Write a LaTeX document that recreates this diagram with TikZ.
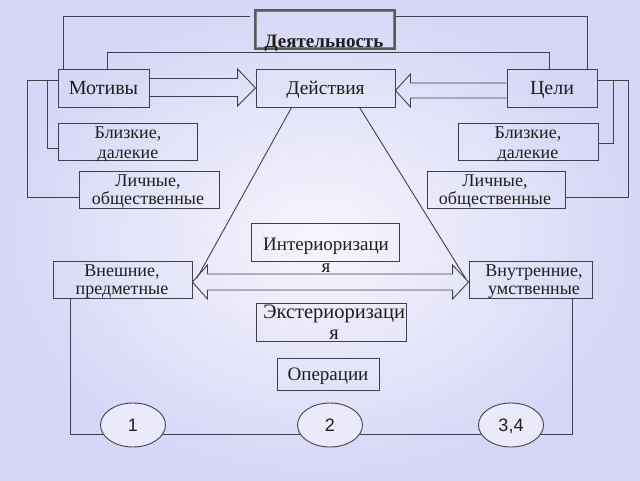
\documentclass[tikz,border=0pt]{standalone}
\usepackage{fontspec}
\setmainfont{Liberation Serif}
\newfontfamily\numfont{Liberation Sans}
\usetikzlibrary{calc,shapes.geometric}
\definecolor{bgout}{RGB}{214,214,247}
\definecolor{bgin}{RGB}{246,246,253}
\definecolor{bgmid}{RGB}{234,234,251}
\definecolor{ln}{RGB}{64,64,74}
\definecolor{tx}{RGB}{30,30,30}
\newcommand\twoline[3]{\begin{tabular}[t]{@{}c@{}}#2\\[#1]#3\end{tabular}}
\begin{document}
\begin{tikzpicture}[x=1pt,y=-1pt,
  box/.style={draw=ln, line width=0.9pt, inner sep=0pt, font=\fontsize{20}{20}\selectfont, text=tx, text height=13.5pt, text depth=0pt},
  lbl/.style={inner sep=0pt, anchor=base, font=\fontsize{18}{18}\selectfont, text=tx},
  conn/.style={draw=ln, line width=0.9pt},
  blk/.style={draw=ln, line width=0.9pt, line join=miter},
  oval/.style={ellipse, draw=ln, line width=0.9pt, fill=bgmid, inner sep=0pt, minimum width=65pt, minimum height=44pt, font=\numfont\fontsize{18}{18}\selectfont, text=tx, text height=13pt, text depth=0pt}]
\path[use as bounding box] (0,0) rectangle (640,480);
\shade[inner color=bgin, outer color=bgout] (0,0) rectangle (640,480);

% top row
\node[box, draw=black!65, line width=1.8pt, minimum width=140pt, minimum height=39pt] (deyat) at (325,29.5) {};
\draw[gray, line width=0.6pt] ($(deyat.south west)+(2.5,-2.5)$) rectangle ($(deyat.north east)+(-2.5,2.5)$);
\node[lbl, font=\bfseries\fontsize{19}{19}\selectfont] (deyatt) at (324,47) {Деятельность};

\node[box, minimum width=91pt, minimum height=38pt] (mot) at (103.5,88) {Мотивы};
\node[box, minimum width=139pt, minimum height=38pt, font=\fontsize{19.5}{19.5}\selectfont] (act) at (325.5,88) {Действия};
\node[box, minimum width=90pt, minimum height=38pt] (cel) at (552,88) {Цели};

\node[box, minimum width=139pt, minimum height=37pt] (bl1) at (127.5,141.5) {};
\node[lbl] (bl1t) at (128,138.5) {\twoline{2pt}{Близкие,}{далекие}};
\node[box, minimum width=140pt, minimum height=37pt] (li1) at (149,189.5) {};
\node[lbl] (li1t) at (148,186) {\twoline{0.5pt}{Личные,}{общественные}};
\node[box, minimum width=140pt, minimum height=37pt] (bl2) at (528,141.5) {};
\node[lbl] (bl2t) at (528,138.5) {\twoline{2pt}{Близкие,}{далекие}};
\node[box, minimum width=138pt, minimum height=37pt] (li2) at (496,189.5) {};
\node[lbl] (li2t) at (495,186) {\twoline{0.5pt}{Личные,}{общественные}};

% middle
\node[box, minimum width=148pt, minimum height=38pt] (int) at (325,242) {};
\node[lbl, font=\fontsize{19}{19}\selectfont] (intt) at (326,250) {\twoline{3pt}{Интериоризаци}{я}};
\node[box, minimum width=139pt, minimum height=37pt] (vnesh) at (122.5,279.5) {};
\node[lbl] (vnesht) at (122,276.5) {\twoline{0pt}{Внешние,}{предметные}};
\node[box, minimum width=123pt, minimum height=37pt] (vnutr) at (530.5,279.5) {};
\node[lbl] (vnutrt) at (534,276.5) {\twoline{0pt}{Внутренние,}{умственные}};
\node[box, minimum width=150pt, minimum height=38pt] (ext) at (331,322) {};
\node[lbl, font=\fontsize{20.5}{20.5}\selectfont] (extt) at (334,318) {\twoline{0.5pt}{Экстериоризаци}{я}};
\node[box, minimum width=102pt, minimum height=32pt, font=\fontsize{19}{19}\selectfont] (oper) at (328,374) {Операции};

% top connectors
\coordinate (t1) at (63,16);
\coordinate (t2) at (587,16);
\coordinate (s1) at (107,52.5);
\coordinate (s2) at (549,52.5);
\draw[conn] (mot.north -| t1) -- (t1) -- ($(deyat.west |- t1)+(-4,0)$);
\draw[conn] (deyat.east |- t2) -- (t2) -- (cel.north -| t2);
\draw[conn] (mot.north -| s1) -- (s1) -- (s2) -- (cel.north -| s2);

% side brackets
\coordinate (l1) at (27,80);
\coordinate (l2) at (47,80);
\coordinate (r1) at (613,80);
\coordinate (r2) at (628,80);
\draw[conn] (mot.west |- l1) -- (l1) |- ($(li1.west)+(0,7.5)$);
\draw[conn] (l2) |- ($(bl1.west)+(0,6.5)$);
\draw[conn] (cel.east |- r2) -- (r2) |- ($(li2.east)+(0,7.5)$);
\draw[conn] (r1) |- ($(bl2.east)+(0,2)$);

% block arrows top
\draw[blk] ($(mot.east)+(0,-9.5)$) -- ($(act.west)+(-18,-9.5)$) -- ($(act.west)+(-18,-19)$)
  -- (act.west) -- ($(act.west)+(-18,18)$) -- ($(act.west)+(-18,8.5)$) -- ($(mot.east)+(0,8.5)$);
\draw[blk] ($(cel.west)+(0,-5)$) -- ($(act.east)+(15,-5)$) -- ($(act.east)+(15,-14)$)
  -- ($(act.east)+(0,2.5)$) -- ($(act.east)+(15,19)$) -- ($(act.east)+(15,10)$) -- ($(cel.west)+(0,10)$);

% triangle lines
\coordinate (tl) at (197,278);
\coordinate (tr) at (466,279);
\draw[conn] ($(act.south west)+(36,0)$) -- (tl);
\draw[conn] ($(act.south west)+(104,0)$) -- (tr);

% double block arrow
\draw[blk] ($(vnesh.east)+(0,2.5)$) -- ($(vnesh.east)+(15,-14.5)$) -- ($(vnesh.east)+(15,-5.5)$)
  -- ($(vnutr.west)+(-16,-5.5)$) -- ($(vnutr.west)+(-16,-14.5)$) -- ($(vnutr.west)+(0,2.5)$)
  -- ($(vnutr.west)+(-16,19.5)$) -- ($(vnutr.west)+(-16,10.5)$) -- ($(vnesh.east)+(15,10.5)$)
  -- ($(vnesh.east)+(15,19.5)$) -- cycle;

% bottom loop
\coordinate (b1) at (70,434);
\coordinate (b2) at (572,434);
\draw[conn] (vnesh.south -| b1) -- (b1) -- (b2) -- (vnutr.south -| b2);
\node[oval] (o1) at (133,425) {1};
\node[oval] (o2) at (330,425) {2};
\node[oval] (o3) at (511,425) {3,4};
\end{tikzpicture}
\end{document}
